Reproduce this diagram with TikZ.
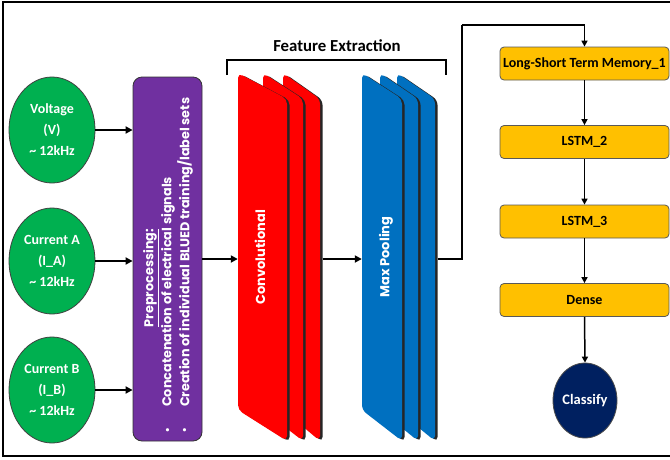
\documentclass[tikz,border=0pt]{standalone}
\usepackage{fontspec}
\setmainfont{Carlito}
\newfontfamily\geo{Poppins}
\usetikzlibrary{shapes.geometric,arrows.meta}
\definecolor{cgreen}{HTML}{00B050}
\definecolor{cpurple}{HTML}{7030A0}
\definecolor{cred}{HTML}{FF0000}
\definecolor{cblue}{HTML}{0070C0}
\definecolor{cyellow}{HTML}{FFC000}
\definecolor{cnavy}{HTML}{002060}
\newcommand\mylayer[3]{%
  \fill[black!85, rounded corners=5pt] (#1+2.5,74) -- (#2+2.5,100) -- (#2+2.5,442) -- (#1+2.5,411) -- cycle;
  \fill[#3, rounded corners=5pt] (#1,73) -- (#2,99) -- (#2,441) -- (#1,410) -- cycle;
}
\begin{document}
\begin{tikzpicture}[x=1pt,y=-1pt,
  sig/.style={ellipse, draw=black!75, line width=0.8pt, fill=cgreen, minimum width=86pt, minimum height=106pt, inner sep=0pt, text=white, font=\bfseries\fontsize{14}{21}\selectfont, align=center},
  lstm/.style={rectangle, rounded corners=4pt, draw=black!65, line width=0.8pt, fill=cyellow, minimum width=169pt, minimum height=33pt, inner sep=0pt, font=\bfseries\fontsize{14}{15}\selectfont},
  bigarr/.style={-{Triangle[length=7pt,width=7pt]}, line width=2pt},
  smallarr/.style={-{Triangle[length=6pt,width=6pt]}, line width=1.5pt},
  vtext/.style={rotate=90, text=white, inner sep=0pt},
  pretext/.style={vtext, font=\geo\bfseries\fontsize{12.8}{14}\selectfont},
]
\useasboundingbox (0,0) rectangle (670,459);
\fill[white] (0,0) rectangle (670,459);
% frame
\draw[line width=2pt] (680,2) -- (3,2) -- (3,456) -- (680,456);

% input signals
\node[sig] (v) at (52,130) {Voltage\\(V)\\\textasciitilde{} 12kHz};
\node[sig] (ia) at (52,261) {Current A\\(I\_A)\\\textasciitilde{} 12kHz};
\node[sig] (ib) at (52,390) {Current B\\(I\_B)\\\textasciitilde{} 12kHz};

% preprocessing
\node[rectangle, rounded corners=9pt, draw=black!80, line width=0.8pt, fill=cpurple, minimum width=69pt, minimum height=364pt, inner sep=0pt] (pre) at (167.5,259) {};
\node[pretext] (p1) at (151,278) {\underline{Preprocessing:}};
\node[pretext, anchor=west] (p2) at (168,407) {Concatenation of electrical signals};
\node[pretext, anchor=west] (p3) at (185,407) {Creation of individual BLUED training/label sets};
\node[vtext, font=\fontsize{9}{9}\selectfont] (b2) at (168,430) {•};
\node[vtext, font=\fontsize{9}{9}\selectfont] (b3) at (185,430) {•};

\draw[bigarr] (v.east) -- (v.east -| pre.west);
\draw[bigarr] (ia.east) -- (ia.east -| pre.west);
\draw[bigarr] (ib.east) -- (ib.east -| pre.west);

% feature extraction
\node[font=\bfseries\fontsize{16.8}{18}\selectfont] (fe) at (337,46) {Feature Extraction};
\coordinate (brL) at (227,75);
\coordinate (brR) at (446,75);
\draw[line width=2pt] (brL) -- ++(0,-15) -| (brR);

\mylayer{283}{320}{cred}
\mylayer{263}{303}{cred}
\mylayer{238}{287}{cred}
\mylayer{397}{435}{cblue}
\mylayer{380}{418}{cblue}
\mylayer{362}{402}{cblue}
\node[minimum width=84.5pt, minimum height=368pt, inner sep=0pt] (conv) at (280.25,259) {};
\node[minimum width=75.5pt, minimum height=368pt, inner sep=0pt] (pool) at (399.75,259) {};
\node[vtext, font=\geo\bfseries\fontsize{13}{15}\selectfont] (convt) at (260,257) {Convolutional};
\node[vtext, font=\geo\bfseries\fontsize{13}{15}\selectfont] (poolt) at (386,257) {Max Pooling};

\draw[bigarr] (pre.east) -- (conv.west);
\draw[bigarr] (conv.east) -- (pool.west);

% LSTM stack
\node[lstm] (l1) at (584.5,63.5) {Long-Short Term Memory\_1};
\node[lstm] (l2) at (584.5,142) {LSTM\_2};
\node[lstm] (l3) at (584.5,221.5) {LSTM\_3};
\node[lstm] (dn) at (584.5,300) {Dense};
\node[ellipse, draw=black!70, line width=0.8pt, fill=cnavy, minimum width=64pt, minimum height=75pt, inner sep=0pt, text=white, font=\bfseries\fontsize{14.5}{16}\selectfont] (cl) at (585,400.5) {Classify};

\coordinate (bend) at (462,25);
\draw[line width=2pt] (pool.east) -| (bend);
\draw[smallarr] (bend) -| (l1.north);
\draw[smallarr] (l1.south) -- (l2.north);
\draw[smallarr] (l2.south) -- (l3.north);
\draw[smallarr] (l3.south) -- (dn.north);
\draw[smallarr] (dn.south) -- (cl.north);
\end{tikzpicture}
\end{document}
